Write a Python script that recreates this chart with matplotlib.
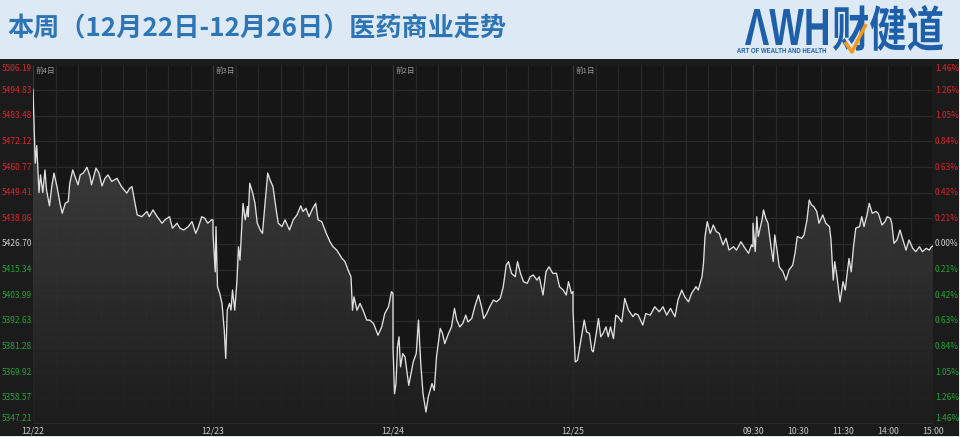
import numpy as np
import matplotlib.pyplot as plt
from matplotlib.patches import Rectangle, PathPatch
from matplotlib.textpath import TextPath
from matplotlib.font_manager import FontProperties
from matplotlib.transforms import Affine2D, blended_transform_factory
from matplotlib.colors import LinearSegmentedColormap
from matplotlib.lines import Line2D

plt.rcParams['font.family'] = ['Noto Sans CJK SC', 'DejaVu Sans']

W, H = 960, 437

title = "本周（12月22日-12月26日）医药商业走势"
prev_close = 5426.70
price_ticks = [5506.19, 5494.83, 5483.48, 5472.12, 5460.77, 5449.41, 5438.06,
               5426.70, 5415.34, 5403.99, 5392.63, 5381.28, 5369.92, 5358.57,
               5347.21]
pct_labels = ["1.46%", "1.26%", "1.05%", "0.84%", "0.63%", "0.42%", "0.21%",
              "0.00%", "0.21%", "0.42%", "0.63%", "0.84%", "1.05%", "1.26%",
              "1.46%"]
day_tags = ["前4日", "前3日", "前2日", "前1日"]
date_labels = ["12/22", "12/23", "12/24", "12/25"]
time_labels = ["09:30", "10:30", "11:30", "14:00", "15:00"]
time_label_min = [0, 60, 120, 180, 240]   # trading minutes into last day

# minutes since open (240 per day) and index level
d1_min = [0, 3, 5, 8, 10, 13, 16, 18, 22, 25, 28, 32, 36, 39, 43, 47, 49, 53,
          56, 60, 63, 67, 72, 76, 78, 84, 88, 92, 96, 100, 105, 112, 118, 125,
          129, 132, 136, 139, 145, 152, 155, 160, 165, 172, 176, 182, 186, 192,
          196, 201, 207, 212, 217, 220, 225, 229, 233, 238, 240]
d1_px = [5495.2, 5462.5, 5470.3, 5449.5, 5457.3, 5449.5, 5459.5, 5450.7,
         5443.6, 5452.1, 5458.1, 5452.1, 5444.7, 5440.3, 5444.7, 5445.5,
         5453.6, 5459.5, 5456.6, 5452.9, 5457.3, 5458.1, 5460.7, 5456.6,
         5452.9, 5460.3, 5458.1, 5452.4, 5455.8, 5457.3, 5454.4, 5455.8,
         5452.1, 5449.2, 5451.4, 5452.1, 5444.7, 5439.6, 5438.8, 5441.1,
         5438.8, 5441.8, 5439.1, 5435.9, 5437.4, 5438.8, 5433.7, 5435.9,
         5433.7, 5432.9, 5434.4, 5436.6, 5431.4, 5433.7, 5438.8, 5438.1,
         5435.9, 5437.4, 5437.4]

d2_min = [0, 3, 4, 6, 9, 12, 15, 17, 19, 22, 24, 26, 29, 32, 34, 36, 40, 43,
          46, 47, 49, 53, 56, 59, 63, 66, 69, 73, 76, 80, 83, 87, 92, 96, 102,
          107, 112, 117, 120, 124, 128, 133, 137, 140, 145, 151, 156, 160, 165,
          172, 176, 180, 184, 186, 188, 192, 196, 200, 205, 209, 214, 220, 225,
          229, 234, 238, 240]
d2_px = [5431.4, 5414.4, 5434.4, 5407.8, 5404.8, 5400.4, 5388.5, 5376.0,
         5397.4, 5400.4, 5397.4, 5406.3, 5397.4, 5410.7, 5425.5, 5419.6,
         5444.7, 5437.4, 5443.3, 5438.8, 5453.6, 5449.2, 5444.7, 5435.9,
         5432.9, 5431.4, 5443.3, 5458.1, 5455.1, 5452.1, 5444.7, 5435.9,
         5434.4, 5437.4, 5432.9, 5437.4, 5439.6, 5443.6, 5441.1, 5442.5,
         5438.8, 5442.5, 5444.7, 5437.4, 5436.6, 5431.4, 5427.7, 5425.5,
         5424.0, 5420.3, 5418.9, 5415.2, 5412.2, 5397.4, 5403.3, 5397.4,
         5400.4, 5397.4, 5393.0, 5393.0, 5391.5, 5386.3, 5390.0, 5395.9,
         5398.9, 5405.6, 5404.8]

d3_min = [0, 2, 4, 6, 8, 10, 13, 16, 19, 21, 24, 27, 31, 34, 37, 40, 44, 47,
          52, 55, 58, 63, 66, 69, 74, 78, 82, 85, 89, 93, 97, 100, 105, 109,
          114, 118, 121, 125, 129, 134, 138, 143, 147, 151, 154, 158, 163, 166,
          170, 174, 179, 183, 187, 192, 195, 200, 204, 208, 213, 218, 222, 227,
          231, 234, 238, 240]
d3_px = [5381.2, 5360.4, 5364.9, 5381.2, 5385.6, 5372.3, 5378.2, 5376.7,
         5369.3, 5364.1, 5369.3, 5374.5, 5378.2, 5393.0, 5373.8, 5360.4,
         5352.3, 5359.0, 5364.9, 5361.9, 5376.7, 5389.3, 5387.1, 5382.6,
         5387.1, 5390.0, 5398.2, 5393.0, 5390.0, 5391.5, 5395.2, 5392.2,
         5393.7, 5398.9, 5404.1, 5398.9, 5393.7, 5395.9, 5398.9, 5401.9,
         5401.1, 5402.6, 5407.8, 5417.4, 5418.9, 5413.7, 5412.2, 5418.9,
         5413.7, 5410.0, 5409.3, 5412.2, 5413.0, 5410.7, 5412.2, 5404.1,
         5414.4, 5416.6, 5413.7, 5413.7, 5407.8, 5406.3, 5404.1, 5410.0,
         5404.8, 5405.6]

d4_min = [0, 3, 6, 9, 12, 15, 18, 22, 25, 27, 31, 34, 37, 40, 44, 47, 50, 54,
          57, 60, 65, 69, 74, 80, 83, 87, 93, 97, 103, 109, 115, 120, 125, 130,
          136, 140, 145, 149, 154, 158, 164, 167, 172, 174, 176, 179, 183, 187,
          191, 195, 200, 204, 208, 214, 218, 224, 228, 234, 238, 240]
d4_px = [5397.4, 5374.5, 5375.2, 5381.2, 5387.1, 5393.0, 5387.8, 5387.1,
         5379.7, 5378.9, 5387.1, 5393.7, 5385.6, 5387.1, 5390.0, 5385.6,
         5390.0, 5384.8, 5395.2, 5394.5, 5392.2, 5402.6, 5397.4, 5394.5,
         5395.9, 5395.2, 5390.8, 5395.9, 5395.2, 5398.9, 5396.7, 5398.9,
         5395.2, 5398.2, 5394.5, 5401.9, 5406.3, 5403.3, 5401.1, 5404.8,
         5407.8, 5406.3, 5412.2, 5418.1, 5430.0, 5436.6, 5431.4, 5435.1,
         5432.2, 5431.4, 5426.3, 5429.2, 5424.0, 5425.5, 5424.0, 5427.7,
         5425.5, 5422.6, 5426.3, 5425.5]

d5_min = [0, 3, 5, 7, 9, 12, 14, 17, 20, 24, 27, 29, 32, 35, 40, 44, 48, 53,
          56, 59, 65, 68, 72, 75, 78, 81, 85, 88, 93, 97, 102, 104, 107, 109,
          112, 116, 120, 123, 125, 128, 131, 134, 137, 142, 145, 148, 152, 155,
          159, 164, 167, 172, 176, 179, 183, 185, 188, 192, 196, 200, 204, 208,
          213, 217, 222, 226, 231, 235, 238, 240]
d5_px = [5435.9, 5423.3, 5438.8, 5430.0, 5432.9, 5437.4, 5441.8, 5438.1,
         5435.9, 5425.5, 5418.9, 5430.7, 5424.0, 5416.6, 5414.4, 5410.7,
         5415.2, 5417.4, 5422.6, 5430.0, 5429.2, 5430.7, 5437.4, 5446.2,
         5444.0, 5443.3, 5441.1, 5435.9, 5439.6, 5435.9, 5434.4, 5428.5,
         5410.7, 5418.9, 5412.2, 5401.1, 5410.0, 5406.3, 5412.2, 5420.3,
         5414.4, 5425.5, 5433.7, 5434.4, 5438.8, 5434.4, 5439.6, 5444.7,
         5440.3, 5441.1, 5440.3, 5435.1, 5436.6, 5438.8, 5438.1, 5435.9,
         5427.0, 5428.5, 5432.9, 5428.5, 5424.0, 5428.5, 5424.8, 5423.3,
         5425.5, 5423.3, 5424.8, 5424.0, 5425.5, 5425.8]

day_min = [d1_min, d2_min, d3_min, d4_min, d5_min]
day_px = [d1_px, d2_px, d3_px, d4_px, d5_px]

x = np.concatenate([np.array(m) + 240 * i for i, m in enumerate(day_min)])
y = np.concatenate([np.array(p) for p in day_px])
ymin, ymax = price_ticks[-1], price_ticks[0]
xmax = 240 * len(day_min)

fig = plt.figure(figsize=(W / 100, H / 100), dpi=100)
fig.patch.set_facecolor('#dde9f5')
to_fig = Affine2D().scale(1 / W, 1 / H) + fig.transFigure

# dark chart panel
fig.add_artist(Rectangle((0, 1 - 436 / H), 959 / W, (436 - 59) / H,
                         transform=fig.transFigure, facecolor='#1b1b1b',
                         edgecolor='none', zorder=0))

fig.text(7 / W, 1 - 29 / H, title, fontsize=18.8, fontweight='bold',
         color='#2e75b6', va='center', ha='left')

# logo
def logo_text(s, x0, y0, w, h, color, family, weight='bold'):
    tp = TextPath((0, 0), s, size=10, prop=FontProperties(family=family, weight=weight))
    bb = tp.get_extents()
    tr = (Affine2D().translate(-bb.x0, -bb.y0)
          .scale(w / bb.width, h / bb.height)
          .translate(x0, H - y0 - h))
    fig.add_artist(PathPatch(tr.transform_path(tp), facecolor=color,
                             edgecolor='none', transform=to_fig, zorder=3))

logo_blue = '#1d5fa9'
logo_text("ΛWH", 745, 9, 83, 36, logo_blue, 'Liberation Sans')
logo_text("财健道", 833, 5, 110, 46, logo_blue, 'Noto Sans CJK SC')
logo_text("ART OF WEALTH AND HEALTH", 737, 48, 89, 5, logo_blue, 'Liberation Sans')
fig.add_artist(Line2D([845 / W, 852 / W, 866 / W],
                      [1 - 42 / H, 1 - 52 / H, 1 - 24 / H],
                      transform=fig.transFigure, color='#f39a1e', lw=2.6,
                      solid_capstyle='butt', zorder=4))

ax = fig.add_axes([33 / W, 1 - 423.5 / H, 900 / W, 359 / H])
ax.set_facecolor('#161616')
ax.set_xlim(0, xmax)
ax.set_ylim(ymin, ymax)

# grid
for gx in range(0, xmax + 1, 30):
    c = '#363636' if gx % 240 == 0 else '#272727'
    ax.axvline(gx, color=c, lw=0.9, zorder=1)
for gy in price_ticks:
    ax.axhline(gy, color='#2b2b2b', lw=0.9, zorder=1)

# gradient area under the line
grad = np.linspace(0, 1, 256).reshape(-1, 1)
cmap = LinearSegmentedColormap.from_list('g', ['#1e1e1e', '#4a4a4a'])
im = ax.imshow(grad, extent=[0, xmax, ymin, ymax], origin='lower',
               aspect='auto', cmap=cmap, zorder=2, alpha=0.9)
poly = ax.fill_between(x, y, ymin, facecolor='none', edgecolor='none')
clip = PathPatch(poly.get_paths()[0], facecolor='none', edgecolor='none',
                 transform=ax.transData)
ax.add_patch(clip)
im.set_clip_path(clip)

ax.plot(x, y, color='#e0e0e0', lw=0.95, zorder=4)

for s in ax.spines.values():
    s.set_visible(False)
ax.set_xticks([])
ax.set_yticks([])

red, green, grey = '#d9252d', '#20a43a', '#cfcfcf'
n = len(price_ticks)
tr_left = blended_transform_factory(fig.transFigure, ax.transData)
for i, (p, pl) in enumerate(zip(price_ticks, pct_labels)):
    c = red if p > prev_close else (green if p < prev_close else grey)
    va = 'top' if i == 0 else ('bottom' if i == n - 1 else 'center')
    ax.text(2 / W, p, f"{p:.2f}", transform=tr_left, color=c, fontsize=6,
            ha='left', va=va)
    ax.text(935 / W, p, pl, transform=tr_left, color=c, fontsize=6,
            ha='left', va=va)

tr_bottom = blended_transform_factory(ax.transData, fig.transFigure)
for i, lab in enumerate(date_labels):
    ax.text(240 * i, 1 - 431 / H, lab, transform=tr_bottom, color='#c8c8c8',
            fontsize=6.3, ha='center', va='center')
for m, lab in zip(time_label_min, time_labels):
    ax.text(240 * 4 + m, 1 - 431 / H, lab, transform=tr_bottom,
            color='#c8c8c8', fontsize=6.3, ha='center', va='center')
for i, lab in enumerate(day_tags):
    ax.text(240 * i + 4, 1 - 71 / H, lab, transform=tr_bottom,
            color='#9a9a9a', fontsize=5.5, ha='left', va='center')

fig.savefig('out.png', dpi=100, facecolor=fig.get_facecolor())
